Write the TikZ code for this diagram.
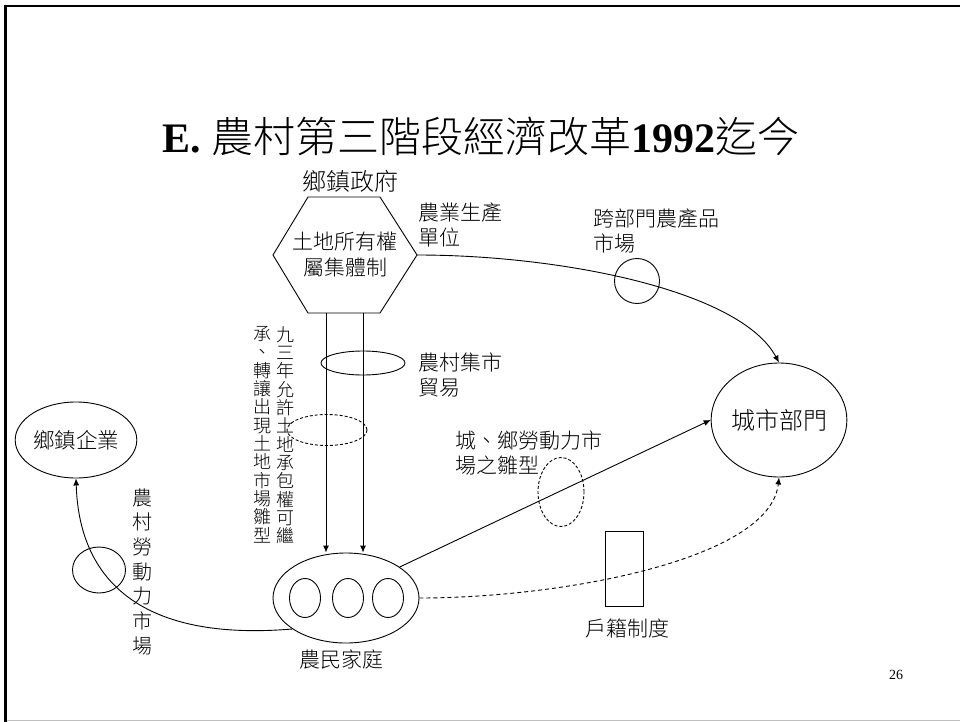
\documentclass[tikz,border=0pt]{standalone}
\usepackage{fontspec}
\setmainfont{Liberation Serif}
\newfontfamily\cjk{Noto Sans CJK TC Light}
\usetikzlibrary{shapes.geometric,arrows.meta}
\begin{document}
\begin{tikzpicture}[x=1pt,y=-1pt,line width=0.9pt,
  lbl/.style={font=\cjk\fontsize{21}{25}\selectfont, inner sep=0pt, align=left, anchor=north west},
  vcol/.style={font=\cjk\fontsize{18}{18.33}\selectfont, inner sep=0pt, align=center, anchor=north},
  oval/.style={draw, ellipse, inner sep=0pt},
  dashoval/.style={oval, dash pattern=on 3pt off 2pt},
  conn/.style={-{Latex[length=7pt,width=6pt]}},
  dconn/.style={conn, dash pattern=on 4pt off 3pt}
]
\useasboundingbox (0,0) rectangle (960,722);
% frame
\draw[line width=2.5pt] (5.5,722) -- (5.5,6) -- (960,6);
\draw[gray!50, line width=1pt] (7,720.5) -- (960,720.5);

% title
\node (title) at (481,136) {\bfseries\fontsize{42}{50}\selectfont E. {\cjk\mdseries 農村第三階段經濟改革}1992{\cjk\mdseries 迄今}};

% hexagon
\coordinate (hexL) at (273,255);
\coordinate (hexTL) at (308,197);
\coordinate (hexTR) at (380,197);
\coordinate (hexR) at (417,255);
\coordinate (hexBR) at (380,313);
\coordinate (hexBL) at (308,313);
\draw (hexL) -- (hexTL) -- (hexTR) -- (hexR) -- (hexBR) -- (hexBL) -- cycle;
\node[font=\cjk\fontsize{21}{26}\selectfont, align=center, inner sep=0pt] (hex) at (345,255) {土地所有權\\屬集體制};
\node[font=\cjk\fontsize{24}{28}\selectfont, inner sep=0pt] (gov) at (350,181) {鄉鎮政府};

% labels
\node[lbl] (prod) at (418,202) {農業生產\\單位};
\node[lbl] (crossmkt) at (593,208) {跨部門農產品\\市場};
\node[lbl] (fair) at (418,352) {農村集市\\貿易};
\node[lbl] (labmkt) at (455,430) {城、鄉勞動力市\\場之雛型};

% city
\node[oval, minimum width=122pt, minimum height=114pt, font=\cjk\fontsize{24}{28}\selectfont] (city) at (779,420) {城市部門};
% town enterprise
\node[oval, minimum width=90pt, minimum height=76pt, font=\cjk\fontsize{21.5}{24}\selectfont] (town) at (76,440) {鄉鎮企業};
% family
\node[oval, minimum width=146pt, minimum height=90pt] (fam) at (346,598) {};
\node[oval, minimum width=31pt, minimum height=39pt] (f1) at (305,598) {};
\node[oval, minimum width=31pt, minimum height=39pt] (f2) at (348,598) {};
\node[oval, minimum width=31pt, minimum height=39pt] (f3) at (388,598) {};
\node[font=\cjk\fontsize{21}{25}\selectfont, inner sep=0pt] (famlbl) at (341,659) {農民家庭};

% markets (small ovals)
\node[oval, minimum width=45pt, minimum height=45pt] (c1) at (637,281) {};
\node[oval, minimum width=84pt, minimum height=24pt] (e1) at (363,363) {};
\node[dashoval, minimum width=80pt, minimum height=31pt] (e2) at (327,430) {};
\node[dashoval, minimum width=46pt, minimum height=69pt] (e3) at (561,492) {};
\node[oval, minimum width=53pt, minimum height=46pt] (e4) at (99,570) {};

% household registration
\node[draw, minimum width=38pt, minimum height=75pt, inner sep=0pt] (hukou) at (624,568.5) {};
\node[font=\cjk\fontsize{21}{25}\selectfont, inner sep=0pt] (hukoulbl) at (627,628) {戶籍制度};

% vertical texts
\node[vcol] (v1) at (285,326) {九\\三\\年\\允\\許\\土\\地\\承\\包\\權\\可\\繼};
\node[vcol] (v2) at (262,326) {承\\、\\轉\\讓\\出\\現\\土\\地\\市\\場\\雛\\型};
\node[font=\cjk\fontsize{20}{24.7}\selectfont, align=center, anchor=north, inner sep=0pt] (v3) at (142,488) {農\\村\\勞\\動\\力\\市\\場};

% page number
\node[font=\fontsize{14}{16}\selectfont] (pg) at (896,675) {26};

% connectors
\coordinate (a1) at (326,313);
\coordinate (a2) at (363,313);
\draw[conn] (a1) -- (a1 |- fam.north);
\draw[conn] (a2) -- (a2 |- fam.north);
\draw[conn] (hexR) .. controls (560,255) and (740,290) .. (city.north);
\draw[conn] (fam.30) -- (city.west);
\draw[dconn] (fam.east) .. controls (560,598) and (770,560) .. (city.south);
\draw[conn] (fam.210) .. controls (100,645) and (78,540) .. (town.south);
\end{tikzpicture}
\end{document}
